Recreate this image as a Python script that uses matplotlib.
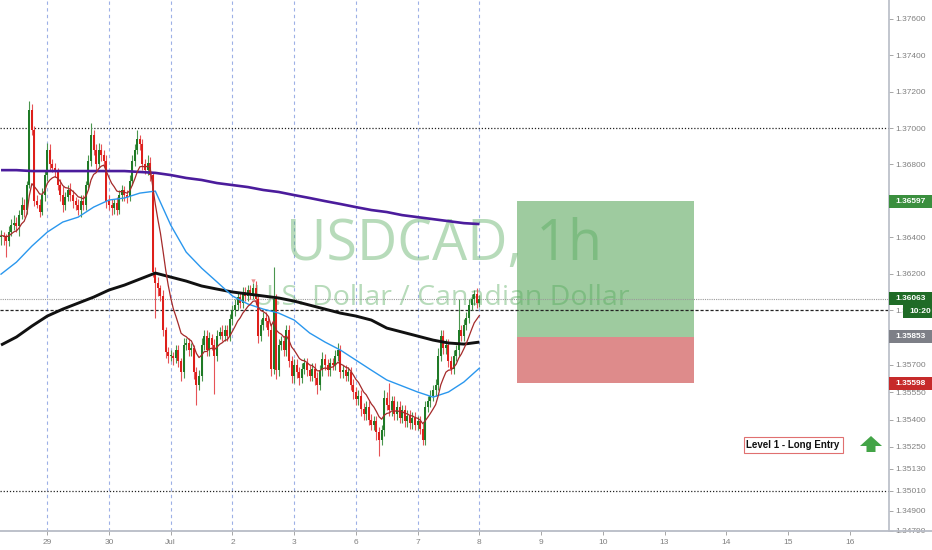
import numpy as np
import pandas as pd
import matplotlib
matplotlib.use('Agg')
import matplotlib.pyplot as plt
from matplotlib.patches import Rectangle, Polygon
from matplotlib.lines import Line2D
import matplotlib.transforms as mtransforms

plt.rcParams['font.family'] = ['Liberation Sans', 'DejaVu Sans']

# ---------------- data ----------------
day_labels = ['29', '30', 'Jul', '2', '3', '6', '7', '8', '9', '10', '13', '14', '15', '16']
bars_per_day = 24
first_day_bars = 18          # hourly bars of Jun 26 visible before "29"

close_jun26 = [1.3641, 1.3640, 1.3638, 1.3643, 1.3647, 1.3648, 1.3646, 1.3652, 1.3658, 1.3655,
               1.3669, 1.3710, 1.3699, 1.3660, 1.3658, 1.3654, 1.3663, 1.3674]
close_jun29 = [1.3688, 1.3680, 1.3678, 1.3676, 1.3669, 1.3663, 1.3658, 1.3662, 1.3666, 1.3663,
               1.3660, 1.3658, 1.3655, 1.3660, 1.3658, 1.3669, 1.3682, 1.3696, 1.3688, 1.3680,
               1.3688, 1.3685, 1.3682, 1.3660]
close_jun30 = [1.3658, 1.3656, 1.3659, 1.3655, 1.3663, 1.3666, 1.3663, 1.3662, 1.3671, 1.3682,
               1.3688, 1.3694, 1.3691, 1.3680, 1.3677, 1.3681, 1.3674, 1.3621, 1.3615, 1.3612,
               1.3608, 1.3589, 1.3577, 1.3575]
close_jul01 = [1.3575, 1.3574, 1.3578, 1.3572, 1.3566, 1.3581, 1.3582, 1.3578, 1.3579, 1.3566,
               1.3559, 1.3564, 1.3581, 1.3586, 1.3578, 1.3585, 1.3581, 1.3575, 1.3586, 1.3588,
               1.3586, 1.3589, 1.3586, 1.3595]
close_jul02 = [1.3600, 1.3603, 1.3607, 1.3604, 1.3610, 1.3608, 1.3611, 1.3609, 1.3612, 1.3606,
               1.3586, 1.3592, 1.3596, 1.3594, 1.3589, 1.3568, 1.3606, 1.3567, 1.3581, 1.3583,
               1.3578, 1.3589, 1.3572, 1.3564]
close_jul03 = [1.3570, 1.3566, 1.3563, 1.3568, 1.3571, 1.3567, 1.3564, 1.3568, 1.3563, 1.3559,
               1.3567, 1.3573, 1.3570, 1.3567, 1.3571, 1.3570, 1.3575, 1.3578, 1.3566, 1.3567,
               1.3564, 1.3566, 1.3559, 1.3555]
close_jul06 = [1.3551, 1.3553, 1.3546, 1.3543, 1.3547, 1.3540, 1.3537, 1.3539, 1.3533, 1.3529,
               1.3534, 1.3552, 1.3548, 1.3545, 1.3550, 1.3543, 1.3547, 1.3541, 1.3545, 1.3539,
               1.3542, 1.3538, 1.3541, 1.3537]
close_jul07 = [1.3539, 1.3535, 1.3529, 1.3547, 1.3550, 1.3553, 1.3556, 1.3559, 1.3575, 1.3586,
               1.3579, 1.3581, 1.3572, 1.3568, 1.3575, 1.3578, 1.3589, 1.3586, 1.3592, 1.3596,
               1.3603, 1.3606, 1.3609, 1.3604]
close_jul08 = [1.36063]
first_open = 1.3640

wick_up_pips = ([3, 2, 2, 3, 3, 4, 3, 3, 4, 3, 2, 5, 3, 2, 3, 3, 4, 3] +
                [4, 3, 3, 3, 2, 3, 5, 3, 3, 4, 3, 2, 3, 3, 3, 2, 3, 7, 3, 3, 4, 3, 3, 3] +
                [3, 3, 2, 3, 3, 3, 2, 3, 3, 3, 3, 5, 2, 3, 3, 4, 3, 2, 3, 3, 2, 3, 2, 3] +
                [3, 2, 3, 3, 2, 4, 3, 3, 3, 2, 3, 3, 4, 3, 3, 3, 2, 3, 3, 3, 4, 3, 3, 3] +
                [3, 3, 3, 3, 3, 3, 3, 3, 3, 4, 3, 3, 3, 3, 3, 3, 18, 3, 3, 3, 3, 3, 3, 3] +
                [3, 3, 3, 3, 3, 3, 3, 3, 3, 3, 3, 4, 3, 3, 3, 3, 3, 4, 3, 3, 3, 3, 3, 3] +
                [3, 3, 3, 3, 3, 3, 3, 3, 3, 3, 3, 4, 3, 12, 3, 3, 3, 3, 3, 3, 3, 3, 3, 3] +
                [3, 3, 3, 3, 3, 3, 3, 3, 4, 3, 3, 3, 3, 3, 3, 3, 17, 3, 3, 3, 3, 3, 2, 3] +
                [2])
wick_down_pips = ([4, 4, 9, 3, 2, 3, 3, 5, 2, 4, 2, 2, 3, 3, 2, 3, 2, 3] +
                  [3, 3, 2, 3, 3, 3, 4, 3, 2, 3, 4, 3, 3, 4, 3, 3, 2, 3, 3, 3, 2, 3, 3, 4] +
                  [3, 4, 3, 3, 2, 3, 3, 3, 2, 2, 3, 2, 3, 3, 2, 3, 3, 3, 19, 4, 3, 3, 3, 4] +
                  [3, 4, 3, 3, 5, 3, 3, 3, 3, 4, 11, 3, 3, 3, 3, 3, 3, 21, 3, 2, 3, 3, 3, 3] +
                  [3, 3, 3, 3, 3, 3, 3, 3, 3, 3, 4, 3, 3, 3, 3, 4, 3, 5, 3, 3, 3, 3, 3, 4] +
                  [4, 3, 4, 3, 3, 3, 3, 3, 4, 5, 3, 3, 3, 3, 3, 3, 3, 3, 3, 3, 3, 3, 3, 4] +
                  [3, 3, 4, 3, 3, 3, 3, 3, 4, 9, 3, 3, 3, 3, 3, 3, 3, 3, 3, 3, 3, 3, 3, 3] +
                  [3, 3, 3, 3, 3, 3, 3, 3, 3, 3, 3, 3, 3, 3, 3, 3, 3, 3, 3, 3, 3, 3, 3, 3] +
                  [2])

# moving averages sampled every 6 bars
ma_step = 6
ma_purple = [1.36769, 1.36769, 1.36764, 1.36764, 1.36764, 1.36764, 1.36764, 1.36764, 1.36764,
             1.36759, 1.36754, 1.36742, 1.36726, 1.36715, 1.36698, 1.36687, 1.36676, 1.36660,
             1.36649, 1.36632, 1.36616, 1.36599, 1.36583, 1.36566, 1.36550, 1.36539, 1.36522,
             1.36511, 1.36500, 1.36489, 1.36478, 1.36473]
ma_black = [1.35809, 1.35853, 1.35913, 1.35968, 1.36006, 1.36039, 1.36072, 1.36111, 1.36138,
            1.36171, 1.36204, 1.36182, 1.36160, 1.36133, 1.36116, 1.36100, 1.36089, 1.36078,
            1.36067, 1.36050, 1.36028, 1.36006, 1.35984, 1.35968, 1.35946, 1.35902, 1.35880,
            1.35858, 1.35836, 1.35820, 1.35814, 1.35825]
ma_blue = [1.36198, 1.36264, 1.36352, 1.36429, 1.36484, 1.36511, 1.36566, 1.36605, 1.36616,
           1.36643, 1.36654, 1.36467, 1.36319, 1.36231, 1.36155, 1.36078, 1.36034, 1.36006,
           1.35984, 1.35946, 1.35875, 1.35825, 1.35781, 1.35726, 1.35671, 1.35617, 1.35584,
           1.35551, 1.35523, 1.35551, 1.35606, 1.35682]
fast_ema_span = 10

level_high = 1.37000
level_mid = 1.36000
level_low = 1.35010
current_price = 1.36063
countdown = '10:20'
target_price = 1.36597
entry_price = 1.35853
stop_price = 1.35598
pivot_bar = 98

y_ticks = [1.37600, 1.37400, 1.37200, 1.37000, 1.36800, 1.36400, 1.36200, 1.36000, 1.35700,
           1.35550, 1.35400, 1.35250, 1.35130, 1.35010, 1.34900, 1.34790]

# ---------------- build ----------------
closes = np.array(close_jun26 + close_jun29 + close_jun30 + close_jul01 + close_jul02 +
                  close_jul03 + close_jul06 + close_jul07 + close_jul08)
n = len(closes)
idx = np.arange(n)
opens = np.concatenate([[first_open], closes[:-1]])
tops = np.maximum(opens, closes)
bots = np.minimum(opens, closes)
highs = tops + np.array(wick_up_pips) * 1e-4
lows = bots - np.array(wick_down_pips) * 1e-4
up = closes >= opens
body_colors = np.where(up, '#1f7a26', '#de1f1a')
wick_colors = np.where(up, '#4a964e', '#e65357')

W, H = 932, 550
fig = plt.figure(figsize=(W / 100, H / 100), dpi=100)
fig.patch.set_facecolor('white')
ax_left, ax_right, ax_bottom = 0, 888.5, 531
ax = fig.add_axes([ax_left / W, (H - ax_bottom) / H, (ax_right - ax_left) / W, ax_bottom / H])
ax.set_facecolor('white')
ax.set_xlim(-0.4, 345.1)
ax.set_ylim(1.34788, 1.37703)

day_pos = first_day_bars + np.arange(len(day_labels)) * bars_per_day

# watermark
wm_color = (0.30, 0.65, 0.33)
ax.text(0.5, 0.511, 'USDCAD, 1h', transform=ax.transAxes, fontsize=40, family='Open Sans',
        color=wm_color, alpha=0.40, ha='center', va='baseline', zorder=1.5)
ax.text(0.497, 0.426, 'U.S. Dollar / Canadian Dollar', transform=ax.transAxes, fontsize=20.5,
        family='Open Sans', color=wm_color, alpha=0.40, ha='center', va='baseline', zorder=1.5)

# vertical day separators
for p in day_pos[:8]:
    ax.axvline(p, color='#9db0e6', lw=0.8, ls=(0, (3, 3)), zorder=1)

# horizontal levels
ax.axhline(level_high, color='#222222', lw=0.9, ls=(0, (1, 1.5)), zorder=2)
ax.axhline(level_low, color='#222222', lw=0.9, ls=(0, (1, 1.5)), zorder=2)
ax.axhline(level_mid, color='#222222', lw=0.9, ls=(0, (2.5, 1.5)), zorder=2)
ax.axhline(current_price, color='#9a9a9a', lw=0.8, ls=(0, (1, 1)), zorder=2)

# long position box
pos_x0, pos_x1 = 200.8, 269.3
ax.add_patch(Rectangle((pos_x0, entry_price), pos_x1 - pos_x0, target_price - entry_price,
                       facecolor='#9ecb9f', edgecolor='none', zorder=1.2))
ax.add_patch(Rectangle((pos_x0, stop_price), pos_x1 - pos_x0, entry_price - stop_price,
                       facecolor='#de8b8b', edgecolor='none', zorder=1.2))

# candles
ax.vlines(idx, lows, highs, colors=wick_colors, lw=0.8, zorder=3)
ax.bar(idx, np.maximum(tops - bots, 0.00004), bottom=bots, width=0.78, color=body_colors,
       linewidth=0, zorder=3.1)
ax.scatter([pivot_bar], [highs[pivot_bar] + 0.00012], marker='v', s=10, color='#ef8f8f',
           linewidths=0, zorder=3.2)

# moving averages
ma_idx = np.arange(0, n, ma_step)
fast_ema = pd.Series(closes).ewm(span=fast_ema_span, adjust=False).mean()
ax.plot(ma_idx, ma_purple, color='#4b1c9c', lw=1.9, zorder=4, solid_capstyle='butt')
ax.plot(ma_idx, ma_black, color='#111111', lw=2.1, zorder=4, solid_capstyle='butt')
ax.plot(ma_idx, ma_blue, color='#2a97ee', lw=1.0, zorder=4)
ax.plot(idx, fast_ema, color='#a52a2a', lw=0.9, zorder=4)

# axes styling
for s in ['top', 'left', 'bottom']:
    ax.spines[s].set_visible(False)
ax.spines['right'].set_color('#b8bcc6')
ax.spines['right'].set_linewidth(1.2)
ax.yaxis.tick_right()
ax.set_yticks(y_ticks)
ax.set_yticklabels([f'{v:.5f}' for v in y_ticks])
ax.tick_params(axis='y', length=3, width=0.6, color='#999999', labelsize=6,
               labelcolor='#808080', pad=2)
ax.set_xticks(day_pos)
ax.set_xticklabels(day_labels)
ax.tick_params(axis='x', length=3, width=0.6, color='#999999', labelsize=6,
               labelcolor='#808080', pad=3)
fig.add_artist(Line2D([0, 1], [(H - ax_bottom) / H] * 2, transform=fig.transFigure,
                      color='#b8bcc6', lw=1.3))

# price labels on the axis
blend = mtransforms.blended_transform_factory(fig.transFigure, ax.transData)
px = (1.37703 - 1.34788) / ax_bottom


def price_box(price, text, color, x0=889):
    h = 13 * px
    ax.add_patch(Rectangle((x0 / W, price - h / 2), (W - x0) / W, h, transform=blend,
                           facecolor=color, edgecolor='none', clip_on=False, zorder=10))
    ax.text((x0 + 6) / W, price, text, transform=blend, fontsize=6, fontweight='bold',
            color='white', ha='left', va='center', clip_on=False, zorder=11)


price_box(target_price, f'{target_price:.5f}', '#3a8f3e')
price_box(current_price, f'{current_price:.5f}', '#1f6b26')
price_box(current_price - 13 * px, countdown, '#1f6b26', x0=903)
price_box(entry_price, f'{entry_price:.5f}', '#7d7f87')
price_box(stop_price, f'{stop_price:.5f}', '#c62a2a')

# annotation
ax.text(308, 1.35260, 'Level 1 - Long Entry', fontsize=7, fontweight='bold', color='#111111',
        ha='center', va='center', zorder=6,
        bbox=dict(boxstyle='square,pad=0.3', fc='white', ec='#e07070', lw=0.8))
arrow_px = [(871, 436), (882, 446), (875.5, 446), (875.5, 452), (866.5, 452), (866.5, 446),
            (860, 446)]
fig.add_artist(Polygon([(x / W, 1 - y / H) for x, y in arrow_px], closed=True,
                       transform=fig.transFigure, facecolor='#43a447', edgecolor='none'))

fig.savefig('out.png', dpi=100, facecolor='white')
